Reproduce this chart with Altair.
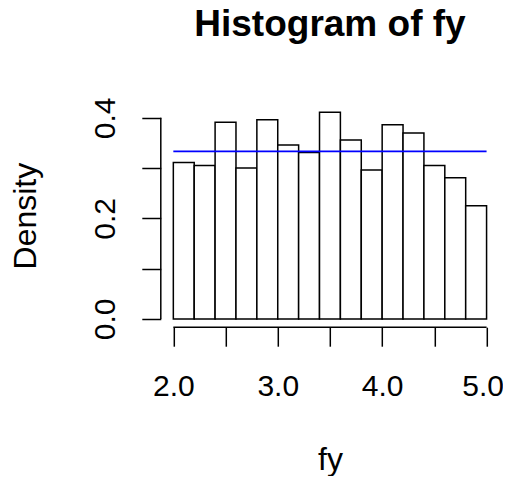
import altair as alt
import pandas as pd

# ---- data ----
breaks = [2.0, 2.2, 2.4, 2.6, 2.8, 3.0, 3.2, 3.4, 3.6, 3.8, 4.0, 4.2, 4.4, 4.6, 4.8, 5.0]
density = [0.311, 0.305, 0.391, 0.300, 0.396, 0.346, 0.331, 0.411,
           0.356, 0.296, 0.386, 0.370, 0.305, 0.281, 0.225]
ref_density = [1 / 3]          # uniform density on [2, 5]
x_ticks = [2.0, 2.5, 3.0, 3.5, 4.0, 4.5, 5.0]
y_ticks = [0.0, 0.1, 0.2, 0.3, 0.4]
title_text = "Histogram of fy"
x_title = "fy"
y_title = "Density"

bars_df = pd.DataFrame({"lo": breaks[:-1], "hi": breaks[1:], "density": density})
ref_df = pd.DataFrame({"lo": [breaks[0]], "hi": [breaks[-1]], "d": ref_density})
xline_df = pd.DataFrame({"a": [x_ticks[0]], "b": [x_ticks[-1]]})
yline_df = pd.DataFrame({"a": [y_ticks[0]], "b": [y_ticks[-1]]})
title_df = pd.DataFrame({"t": [title_text]})

FONT = "Liberation Sans"
W, H = 338.3, 223.2
xdom = [1.88, 5.12]
ydom = [-0.01644, 0.42744]

xscale = alt.Scale(domain=xdom, nice=False, zero=False)
yscale = alt.Scale(domain=ydom, nice=False, zero=False)

xaxis = alt.Axis(
    values=x_ticks, domain=False, grid=False,
    tickSize=19, tickColor="black", tickWidth=1.5,
    labelExpr="datum.value % 1 == 0 ? format(datum.value, '.1f') : ''",
    labelFont=FONT, labelFontSize=30, labelColor="black",
    labelBaseline="alphabetic", labelPadding=49, labelAngle=0,
    labelOverlap=False, labelFlush=False,
    labelOffset={"condition": {"test": "datum.value == 5", "value": -4}, "value": 0},
    title=x_title, titleFont=FONT, titleFontSize=32, titleFontWeight="normal",
    titleColor="black", titleX=W / 2, titleY=142,
    titleBaseline="alphabetic", titleAlign="center", titleAngle=0,
)
yaxis = alt.Axis(
    values=y_ticks, domain=False, grid=False,
    tickSize=19, tickColor="black", tickWidth=1.5,
    labelExpr="round(datum.value * 10) % 2 == 0 ? format(datum.value, '.1f') : ''",
    labelFont=FONT, labelFontSize=30, labelColor="black",
    labelAngle=270, labelAlign="center", labelBaseline="alphabetic",
    labelPadding=27, labelOverlap=False, labelFlush=False,
    title=y_title, titleFont=FONT, titleFontSize=32, titleFontWeight="normal",
    titleColor="black", titleX=-125, titleY=H / 2,
    titleBaseline="alphabetic", titleAlign="center", titleAngle=270,
)

bars = alt.Chart(bars_df).mark_rect(
    fill="white", stroke="black", strokeWidth=1.5
).encode(
    x=alt.X("lo:Q", scale=xscale, axis=xaxis),
    x2="hi:Q",
    y=alt.Y("density:Q", scale=yscale, axis=yaxis),
    y2=alt.datum(0),
)

ref = alt.Chart(ref_df).mark_rule(color="#0000FF", strokeWidth=1.8).encode(
    x=alt.X("lo:Q", scale=xscale),
    x2="hi:Q",
    y=alt.Y("d:Q", scale=yscale),
)

xline = alt.Chart(xline_df).mark_rule(color="black", strokeWidth=1.5).encode(
    x=alt.X("a:Q", scale=xscale),
    x2="b:Q",
    y=alt.value(H),
)

yline = alt.Chart(yline_df).mark_rule(color="black", strokeWidth=1.5).encode(
    y=alt.Y("a:Q", scale=yscale),
    y2="b:Q",
    x=alt.value(0),
)

title = alt.Chart(title_df).mark_text(
    font=FONT, fontSize=37, fontWeight="bold", color="black",
    align="center", baseline="alphabetic",
).encode(text="t:N", x=alt.value(W / 2), y=alt.value(-68))

chart = alt.layer(bars, ref, xline, yline, title).properties(
    width=W, height=H,
    autosize="none",
    padding={"left": 152.8, "top": 96, "right": 3.9, "bottom": 148.8},
    background="white",
).configure_view(stroke=None)

chart.save("out.html", embed_options={"renderer": "svg", "actions": False})
